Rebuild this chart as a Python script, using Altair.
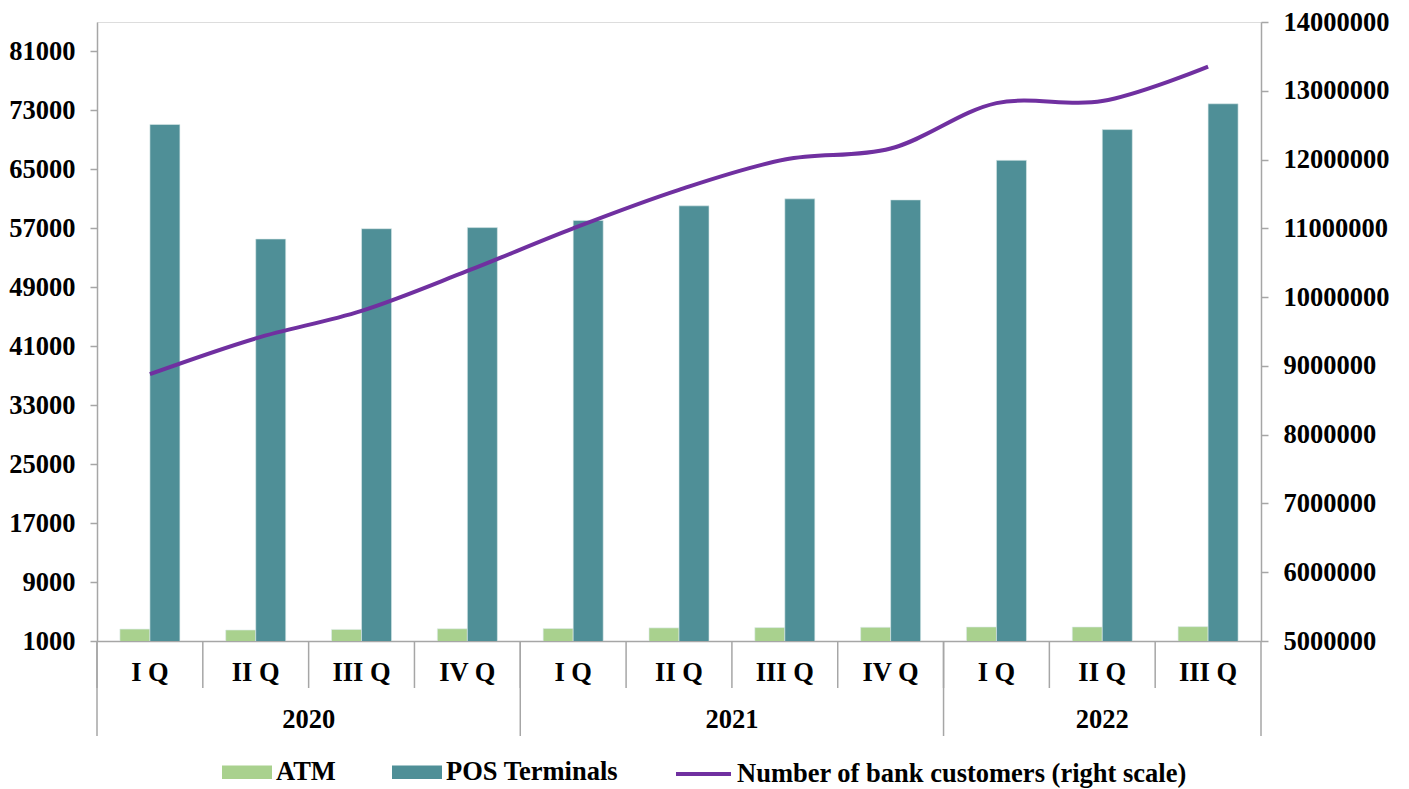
import altair as alt
import pandas as pd

years = ["2020"] * 4 + ["2021"] * 4 + ["2022"] * 3
quarters = ["I Q", "II Q", "III Q", "IV Q", "I Q", "II Q", "III Q", "IV Q", "I Q", "II Q", "III Q"]
atm = [2620, 2490, 2570, 2660, 2690, 2780, 2820, 2860, 2900, 2900, 2950]
pos = [71100, 55550, 56950, 57100, 58070, 60050, 61000, 60860, 66230, 70400, 73900]
customers = [8880000, 9400000, 9800000, 10380000, 11000000, 11560000, 12000000,
             12160000, 12820000, 12850000, 13350000]

left_ticks = [1000, 9000, 17000, 25000, 33000, 41000, 49000, 57000, 65000, 73000, 81000]
right_ticks = [5000000, 6000000, 7000000, 8000000, 9000000, 10000000, 11000000,
               12000000, 13000000, 14000000]

series_names = ["ATM", "POS Terminals"]
series_colors = ["#A9D18E", "#4F8F97"]
line_name = "Number of bank customers (right scale)"
line_color = "#7030A0"

FONT = "Liberation Serif"
FS = 26.5
GRAY = "#A6A6A6"
W, H = 1164, 619

keys = [f"{y} {q}" for y, q in zip(years, quarters)]

bars_df = pd.DataFrame(
    [{"key": k, "series": "ATM", "value": a} for k, a in zip(keys, atm)]
    + [{"key": k, "series": "POS Terminals", "value": p} for k, p in zip(keys, pos)]
)
line_df = pd.DataFrame({"key": keys, "value": customers, "label": line_name})

# year groups
year_list = []
for y in years:
    if y not in year_list:
        year_list.append(y)
year_keys = {y: [k for k, yy in zip(keys, years) if yy == y] for y in year_list}
even_rows, odd_rows = [], []
for y in year_list:
    ks = year_keys[y]
    if len(ks) % 2 == 0:
        even_rows.append({"key": ks[len(ks) // 2], "year": y})
    else:
        odd_rows.append({"key": ks[len(ks) // 2], "year": y})
year_start_df = pd.DataFrame({"key": [year_keys[y][0] for y in year_list]})
last_df = pd.DataFrame({"key": [keys[-1]]})
all_df = pd.DataFrame({"key": keys})

xscale = alt.Scale(domain=keys, paddingInner=0, paddingOuter=0)

x_axis = alt.Axis(
    title=None, ticks=False, labelExpr="slice(datum.label, 5)", labelAngle=0,
    labelFont=FONT, labelFontSize=FS, labelFontWeight="bold", labelColor="black",
    labelPadding=31, labelBaseline="middle", domainColor=GRAY, domainWidth=1.5,
)

bars = alt.Chart(bars_df).mark_bar(stroke="#DDEBEB", strokeWidth=0.6, clip=True).encode(
    x=alt.X("key:N", scale=xscale, axis=x_axis, sort=keys),
    xOffset=alt.XOffset("series:N", sort=series_names,
                        scale=alt.Scale(domain=series_names, paddingInner=0, paddingOuter=0.763)),
    y=alt.Y("value:Q", scale=alt.Scale(domain=[1000, 85000], nice=False, zero=False),
            axis=alt.Axis(title=None, values=left_ticks, format="d", grid=False,
                          labelFont=FONT, labelFontSize=FS, labelFontWeight="bold",
                          labelColor="black", labelPadding=15, tickSize=7,
                          tickColor=GRAY, domainColor=GRAY, domainWidth=1.5, tickWidth=1.5)),
    color=alt.Color("series:N", scale=alt.Scale(domain=series_names, range=series_colors),
                    legend=alt.Legend(
                        title=None, orient="none", legendX=125, legendY=725,
                        direction="horizontal", symbolType="M-1,-0.27H1V0.27H-1Z",
                        symbolSize=2500, symbolStrokeWidth=0, labelFont=FONT,
                        labelFontSize=FS, labelFontWeight="bold", labelColor="black",
                        labelOffset=4, columnPadding=56, symbolOpacity=1, labelLimit=0)),
)

line = alt.Chart(line_df).mark_line(strokeWidth=4, interpolate="catmull-rom").encode(
    x=alt.X("key:N", scale=xscale, sort=keys),
    y=alt.Y("value:Q", scale=alt.Scale(domain=[5000000, 14000000], nice=False, zero=False),
            axis=alt.Axis(title=None, orient="right", values=right_ticks, format="d",
                          grid=False, labelFont=FONT, labelFontSize=FS,
                          labelFontWeight="bold", labelColor="black", labelPadding=15,
                          tickSize=7, tickColor=GRAY, domainColor=GRAY, domainWidth=1.5,
                          tickWidth=1.5)),
    stroke=alt.Stroke("label:N", scale=alt.Scale(domain=[line_name], range=[line_color]),
                      legend=alt.Legend(
                          title=None, orient="none", legendX=577, legendY=722.5,
                          symbolType="stroke", symbolSize=3025, symbolStrokeWidth=4,
                          labelFont=FONT, labelFontSize=FS, labelFontWeight="bold",
                          labelColor="black", labelOffset=4, labelLimit=0)),
)

q_sep = alt.Chart(all_df).mark_rule(color=GRAY, strokeWidth=1.5).encode(
    x=alt.X("key:N", scale=xscale, sort=keys, bandPosition=0),
    y=alt.value(H), y2=alt.value(H + 47),
)
y_sep = alt.Chart(year_start_df).mark_rule(color=GRAY, strokeWidth=1.5).encode(
    x=alt.X("key:N", scale=xscale, sort=keys, bandPosition=0),
    y=alt.value(H), y2=alt.value(H + 95),
)
end_sep = alt.Chart(last_df).mark_rule(color=GRAY, strokeWidth=1.5).encode(
    x=alt.X("key:N", scale=xscale, sort=keys, bandPosition=1),
    y=alt.value(H), y2=alt.value(H + 95),
)

text_style = dict(font=FONT, fontSize=FS, fontWeight="bold", color="black",
                  baseline="middle", align="center")
year_text_even = alt.Chart(pd.DataFrame(even_rows)).mark_text(**text_style).encode(
    x=alt.X("key:N", scale=xscale, sort=keys, bandPosition=0),
    y=alt.value(H + 79), text="year:N",
)
year_text_odd = alt.Chart(pd.DataFrame(odd_rows)).mark_text(**text_style).encode(
    x=alt.X("key:N", scale=xscale, sort=keys, bandPosition=0.5),
    y=alt.value(H + 79), text="year:N",
)

chart = alt.layer(
    bars, q_sep, y_sep, end_sep, year_text_even, year_text_odd, line
).resolve_scale(y="independent", color="independent", stroke="independent").properties(
    width=W, height=H,
    autosize=alt.AutoSizeParams(type="none"),
    padding={"left": 89, "top": 14, "right": 140, "bottom": 150},
).configure_view(stroke=None).configure(background="white")

chart.save("out.html", embed_options={"renderer": "svg", "actions": False})
